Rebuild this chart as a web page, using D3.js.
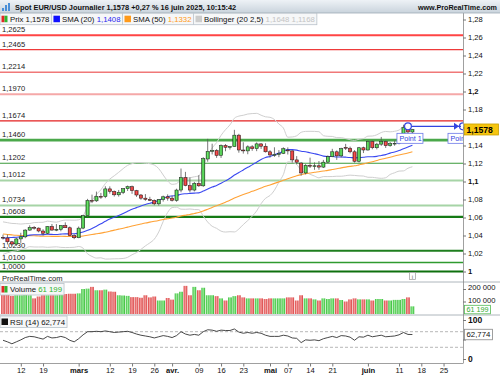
<!DOCTYPE html>
<html><head><meta charset="utf-8">
<script src="https://cdn.jsdelivr.net/npm/d3@7"></script>
<style>
body{margin:0;background:#fff}
svg{display:block;font-family:"Liberation Sans",Arial,sans-serif}
</style>
</head><body>
<svg id="c" width="500" height="375"></svg>
<script>
// ---------------- DATA ----------------
const dates = [
 "06/02","07/02","10/02","11/02","12/02","13/02","14/02","17/02","18/02","19/02","20/02","21/02","24/02","25/02","26/02","27/02","28/02",
 "03/03","04/03","05/03","06/03","07/03","10/03","11/03","12/03","13/03","14/03","17/03","18/03","19/03","20/03","21/03","24/03","25/03","26/03","27/03","28/03","31/03",
 "01/04","02/04","03/04","04/04","07/04","08/04","09/04","10/04","11/04","14/04","15/04","16/04","17/04","18/04","21/04","22/04","23/04","24/04","25/04","28/04","29/04","30/04",
 "01/05","02/05","05/05","06/05","07/05","08/05","09/05","12/05","13/05","14/05","15/05","16/05","19/05","20/05","21/05","22/05","23/05","26/05","27/05","28/05","29/05","30/05",
 "02/06","03/06","04/06","05/06","06/06","09/06","10/06","11/06","12/06","13/06","16/06"];
const open = [
 1.0380,1.0372,1.0330,1.0305,1.0362,1.0385,1.0460,1.0490,1.0482,1.0450,1.0425,1.0500,1.0460,1.0468,1.0512,1.0486,1.0398,
 1.0375,1.0482,1.0620,1.0790,1.0785,1.0835,1.0832,1.0918,1.0890,1.0852,1.0880,1.0920,1.0942,1.0898,1.0850,1.0815,1.0802,1.0790,1.0752,1.0800,1.0830,
 1.0815,1.0790,1.0905,1.1045,1.0955,1.0905,1.0980,1.0952,1.1250,1.1335,1.1345,1.1290,1.1400,1.1380,1.1388,1.1515,1.1350,1.1340,1.1385,1.1365,1.1418,1.1392,
 1.1330,1.1295,1.1300,1.1312,1.1350,1.1340,1.1240,1.1205,1.1095,1.1180,1.1170,1.1175,1.1160,1.1215,1.1276,1.1330,1.1285,1.1380,1.1370,1.1330,1.1225,1.1375,
 1.1350,1.1445,1.1375,1.1415,1.1445,1.1398,1.1420,1.1425,1.1487,1.1600,1.1550];
const high = [
 1.0410,1.0410,1.0340,1.0375,1.0430,1.0470,1.0513,1.0505,1.0490,1.0470,1.0505,1.0528,1.0527,1.0515,1.0546,1.0500,1.0414,
 1.0500,1.0630,1.0807,1.0854,1.0888,1.0873,1.0947,1.0946,1.0900,1.0906,1.0927,1.0955,1.0955,1.0907,1.0861,1.0860,1.0830,1.0801,1.0805,1.0843,1.0857,
 1.0844,1.0920,1.1144,1.1107,1.1046,1.0995,1.1070,1.1270,1.1474,1.1420,1.1360,1.1412,1.1416,1.1395,1.1574,1.1530,1.1436,1.1402,1.1404,1.1434,1.1425,1.1425,
 1.1348,1.1380,1.1349,1.1380,1.1379,1.1345,1.1282,1.1215,1.1193,1.1265,1.1212,1.1227,1.1240,1.1290,1.1363,1.1345,1.1375,1.1418,1.1388,1.1349,1.1384,1.1387,
 1.1455,1.1454,1.1430,1.1495,1.1453,1.1439,1.1456,1.1498,1.1631,1.1613,1.1584];
const low = [
 1.0355,1.0300,1.0285,1.0285,1.0318,1.0370,1.0453,1.0465,1.0435,1.0400,1.0415,1.0455,1.0448,1.0447,1.0483,1.0395,1.0359,
 1.0370,1.0470,1.0605,1.0760,1.0773,1.0807,1.0815,1.0865,1.0833,1.0832,1.0860,1.0895,1.0863,1.0829,1.0797,1.0786,1.0783,1.0736,1.0733,1.0777,1.0787,
 1.0778,1.0775,1.0880,1.0947,1.0880,1.0890,1.0940,1.0940,1.1220,1.1301,1.1263,1.1262,1.1336,1.1355,1.1385,1.1320,1.1310,1.1303,1.1341,1.1337,1.1362,1.1322,
 1.1265,1.1274,1.1270,1.1305,1.1300,1.1210,1.1192,1.1065,1.1079,1.1150,1.1130,1.1131,1.1150,1.1204,1.1270,1.1240,1.1267,1.1350,1.1313,1.1210,1.1211,1.1316,
 1.1343,1.1358,1.1357,1.1396,1.1373,1.1386,1.1397,1.1413,1.1475,1.1490,1.1533];
const close = [
 1.0372,1.0330,1.0305,1.0362,1.0385,1.0460,1.0490,1.0482,1.0450,1.0425,1.0500,1.0460,1.0468,1.0512,1.0486,1.0398,1.0375,
 1.0482,1.0620,1.0790,1.0785,1.0835,1.0832,1.0918,1.0890,1.0852,1.0880,1.0920,1.0942,1.0898,1.0850,1.0815,1.0802,1.0790,1.0752,1.0800,1.0830,1.0815,
 1.0790,1.0905,1.1045,1.0955,1.0905,1.0980,1.0952,1.1255,1.1335,1.1345,1.1290,1.1400,1.1380,1.1388,1.1515,1.1350,1.1340,1.1385,1.1365,1.1418,1.1392,1.1330,
 1.1295,1.1300,1.1312,1.1365,1.1340,1.1240,1.1215,1.1095,1.1180,1.1170,1.1175,1.1160,1.1215,1.1276,1.1330,1.1285,1.1365,1.1370,1.1330,1.1225,1.1375,1.1350,
 1.1445,1.1375,1.1415,1.1445,1.1398,1.1420,1.1425,1.1487,1.1600,1.1550,1.1578];
// closes before the visible window (for SMA / Bollinger warm-up)
const priorCloses = [
 1.0495,1.0488,1.0567,1.0553,1.0577,1.0497,1.0512,1.0511,1.0586,1.0566,1.0554,1.0527,1.0496,1.0468,1.0501,
 1.0513,1.0490,1.0352,1.0365,1.0430,1.0406,1.0408,1.0422,1.0427,1.0405,1.0354,1.0266,1.0308,1.0388,1.0344,
 1.0318,1.0300,1.0244,1.0245,1.0309,1.0289,1.0300,1.0272,1.0417,1.0432,1.0406,1.0414,1.0495,1.0493,1.0429,
 1.0422,1.0390,1.0362,1.0346,1.0379,1.0403];
const volume = [
 155000,155000,145000,150000,150000,155000,150000,125000,140000,150000,150000,150000,150000,152000,160000,162000,162000,
 165000,200000,203000,217000,190000,190000,195000,180000,178000,150000,148000,145000,135000,135000,130000,150000,133000,140000,108000,108000,128000,
 115000,165000,178000,225000,150000,217000,190000,210000,150000,150000,143000,125000,108000,133000,143000,150000,133000,125000,125000,125000,125000,120000,
 125000,125000,125000,125000,133000,133000,108000,150000,125000,125000,117000,108000,125000,120000,125000,125000,112000,100000,117000,125000,117000,117000,
 117000,108000,120000,120000,108000,108000,113000,113000,120000,133000,61199];
const rsi = [
 48,44,39,44,49,55,58,57,54,51,58,54,55,58,55,48,44,
 52,62,70,70,71,70,72,70,68,69,70,71,68,64,61,59,57,54,57,60,58,
 55,60,70,64,61,63,61,70,75,74,71,74,73,73,77,69,66,68,66,68,66,61,
 58,58,58,61,59,54,53,42,49,48,49,47,52,55,58,55,60,59,56,48,57,56,
 61,57,59,61,57,58,59,62,68,63,62.774];
const levels = [1.2625,1.2465,1.2214,1.1970,1.1674,1.1460,1.1202,1.1012,1.0734,1.0608,1.0230,1.0100,1.0000];
const priceTicks = [1.00,1.02,1.04,1.06,1.08,1.10,1.12,1.14,1.16,1.18,1.20,1.22,1.24,1.26,1.28];
const xTickIdx = [4,9,17,24,29,34,38,44,49,54,60,64,69,74,82,89,94,99];
const xTickLabels = ["12","19","mars","12","19","26","avr.","09","16","23","mai","07","14","21","juin","11","18","25"];
const volTicks = [100000,200000];
const rsiTicks = [0,50,100];
const pointIdx = 91, pointPrice = 1.1613;
const lastPrice = 1.1578, lastVolume = 61199, lastRsi = 62.774;
const titleText = "Spot EUR/USD Journalier 1,1578 +0,27 % 16 juin 2025, 10:15:42";

// ---------------- STYLES ----------------
const levelStyle = [
 ["#ff4545",2.2],["#ee3a3a",1.1],["#f07878",1.6],["#f5a8a8",2],["#e32020",1.1],["#4aa84a",2.6],["#3a9a3a",1.1],
 ["#a6d4a6",2],["#a6d4a6",2],["#157a15",2.2],["#1e7e1e",2],["#2f9a2f",1.3],["#0e700e",2]];

// ---------------- SCALES ----------------
const svg = d3.select("#c");
const AX = 463;
const x = d3.scaleLinear().domain([0,104]).range([3, 3+104*4.45]);
const y = d3.scaleLinear().domain([1.0,1.28]).range([271.5,19.5]);
const yv = d3.scaleLinear().domain([0,200000]).range([314,289]);
const yr = d3.scaleLinear().domain([0,100]).range([359,320]);
const fmt4 = v => v.toFixed(4).replace(".",",");
const fmtP = v => String(+v.toFixed(2)).replace(".",",");

const defs = svg.append("defs");
const tg = defs.append("linearGradient").attr("id","tg").attr("x1",0).attr("y1",0).attr("x2",0).attr("y2",1);
tg.append("stop").attr("offset","0").attr("stop-color","#eef2f6");
tg.append("stop").attr("offset","1").attr("stop-color","#c9d3dc");
function barGrad(id, edge, mid){
  const g = defs.append("linearGradient").attr("id",id).attr("x1",0).attr("x2",1).attr("y1",0).attr("y2",0);
  g.append("stop").attr("offset","0").attr("stop-color",edge);
  g.append("stop").attr("offset","0.45").attr("stop-color",mid);
  g.append("stop").attr("offset","1").attr("stop-color",edge);
}
barGrad("gG","#2fb52f","#9cf09c");
barGrad("gR","#d63a3a","#f6a0a0");
barGrad("cG","#28a828","#6fe36f");
barGrad("cR","#d01c1c","#f25a5a");
defs.append("clipPath").attr("id","cm").append("rect").attr("x",0).attr("y",13).attr("width",AX).attr("height",269);
defs.append("clipPath").attr("id","cv").append("rect").attr("x",0).attr("y",282).attr("width",AX).attr("height",33);
defs.append("clipPath").attr("id","cr").append("rect").attr("x",0).attr("y",315).attr("width",AX).attr("height",48);

// ---------------- MAIN PANEL ----------------
const main = svg.append("g").attr("clip-path","url(#cm)");
levels.forEach((v,i)=>{
  main.append("line").attr("x1",0).attr("x2",AX).attr("y1",y(v)).attr("y2",y(v))
    .attr("stroke",levelStyle[i][0]).attr("stroke-width",levelStyle[i][1]);
  main.append("text").attr("x",2).attr("y",y(v)-3).attr("font-size",7.6).attr("fill","#222").text(fmt4(v));
});

// indicators
const all = priorCloses.concat(close);
const off = priorCloses.length;
function sma(n){ return close.map((c,i)=>{ const s=all.slice(off+i-n+1, off+i+1); return d3.mean(s); }); }
const sma20 = sma(20), sma50 = sma(50);
const bbU = [], bbL = [];
close.forEach((c,i)=>{ const s=all.slice(off+i-19, off+i+1); const m=d3.mean(s);
  const sd=Math.sqrt(d3.mean(s.map(v=>(v-m)*(v-m)))); bbU.push(m+2.5*sd); bbL.push(m-2.5*sd); });
const line = d3.line().x((d,i)=>x(i)).y(d=>y(d)).curve(d3.curveMonotoneX);
main.append("path").attr("d",line(bbU)).attr("fill","none").attr("stroke","#cfcfcf").attr("stroke-width",1);
main.append("path").attr("d",line(bbL)).attr("fill","none").attr("stroke","#cfcfcf").attr("stroke-width",1);
main.append("path").attr("d",line(sma50)).attr("fill","none").attr("stroke","#ffa236").attr("stroke-width",1.1);
main.append("path").attr("d",line(sma20)).attr("fill","none").attr("stroke","#3a48f0").attr("stroke-width",1.1);

// candles
const cg = main.append("g");
close.forEach((c,i)=>{
  const up = c >= open[i];
  cg.append("line").attr("x1",x(i)).attr("x2",x(i)).attr("y1",y(high[i])).attr("y2",y(low[i]))
    .attr("stroke","#555").attr("stroke-width",0.8);
  const top = y(Math.max(open[i],c)), bot = y(Math.min(open[i],c));
  cg.append("rect").attr("x",x(i)-1.6).attr("width",3.2).attr("y",top).attr("height",Math.max(0.8,bot-top))
    .attr("fill",up?"url(#cG)":"url(#cR)").attr("stroke","#1d1d1d").attr("stroke-width",0.5);
});

// Point 1 annotation
const py = y(pointPrice), px = x(pointIdx);
main.append("line").attr("x1",px).attr("x2",AX-2).attr("y1",py).attr("y2",py).attr("stroke","#3345e0").attr("stroke-width",1.3);
main.append("path").attr("d",`M${AX-9},${py-3.5} L${AX-4},${py} L${AX-9},${py+3.5} Z`).attr("fill","#3345e0");
main.append("path").attr("d",`M${AX},${py-3.5} A3.5,3.5 0 0 0 ${AX},${py+3.5}`).attr("fill","none").attr("stroke","#3345e0").attr("stroke-width",1.2);
main.append("circle").attr("cx",px).attr("cy",py).attr("r",3.4).attr("fill","#fff").attr("stroke","#3345e0").attr("stroke-width",1.2);
function ptLabel(lx){
  main.append("rect").attr("x",lx).attr("y",py+7).attr("width",26).attr("height",10).attr("fill","#fff").attr("stroke","#6b78e8").attr("stroke-width",0.8);
  main.append("text").attr("x",lx+2.5).attr("y",py+14.8).attr("font-size",7.2).attr("fill","#3345e0").text("Point 1");
}
ptLabel(px-11);
ptLabel(AX-15);

// "ProRealTime.com" and info icon
svg.append("text").attr("x",2).attr("y",281).attr("font-size",7.6).attr("fill","#222").text("ProRealTime.com");
svg.append("rect").attr("x",409.5).attr("y",272.5).attr("width",6).attr("height",7).attr("fill","#fff").attr("stroke","#999").attr("stroke-width",0.7);
svg.append("text").attr("x",412.5).attr("y",278.5).attr("font-size",6).attr("text-anchor","middle").attr("fill","#666").text("i");

// ---------------- VOLUME PANEL ----------------
const vg = svg.append("g").attr("clip-path","url(#cv)");
volume.forEach((v,i)=>{
  const up = close[i] >= open[i];
  vg.append("rect").attr("x",x(i)-1.85).attr("width",3.7).attr("y",yv(v)).attr("height",yv(0)-yv(v))
    .attr("fill",up?"url(#gG)":"url(#gR)");
});

// ---------------- RSI PANEL ----------------
const rg = svg.append("g").attr("clip-path","url(#cr)");
[70,30].forEach(v=>rg.append("line").attr("x1",0).attr("x2",AX).attr("y1",yr(v)).attr("y2",yr(v))
  .attr("stroke","#9a9a9a").attr("stroke-width",0.7).attr("stroke-dasharray","3,2"));
rg.append("path").attr("d",d3.line().x((d,i)=>x(i)).y(d=>yr(d))(rsi)).attr("fill","none").attr("stroke","#333").attr("stroke-width",0.9);

// panel separators
[282,315].forEach(v=>svg.append("line").attr("x1",0).attr("x2",500).attr("y1",v).attr("y2",v).attr("stroke","#9aa3ab").attr("stroke-width",0.8));
svg.append("line").attr("x1",0).attr("x2",AX).attr("y1",363.5).attr("y2",363.5).attr("stroke","#888").attr("stroke-width",0.8);
svg.append("line").attr("x1",AX+0.5).attr("x2",AX+0.5).attr("y1",13).attr("y2",363.5).attr("stroke","#888").attr("stroke-width",0.8);

// ---------------- AXES ----------------
function styleAxis(g, boldSet){
  g.select(".domain").remove();
  g.selectAll(".tick line").attr("stroke","#777");
  g.selectAll(".tick text").attr("fill","#111").attr("font-family","Liberation Sans, Arial, sans-serif").attr("font-size",7.6);
  if(boldSet) g.selectAll(".tick text").attr("font-weight",d=>boldSet(d)?"bold":"normal");
}
// labels hidden behind the value boxes in the reference are left empty
const ay = svg.append("g").attr("transform",`translate(${AX},0)`)
  .call(d3.axisRight(y).tickValues(priceTicks).tickSize(3).tickPadding(2)
    .tickFormat(d=>Math.abs(d-1.16)<1e-9 ? "" : fmtP(d)));
styleAxis(ay, d=>[1.0,1.1,1.2].some(b=>Math.abs(b-d)<1e-9));
const av = svg.append("g").attr("transform",`translate(${AX},0)`)
  .call(d3.axisRight(yv).tickValues(volTicks).tickSize(3).tickPadding(2).tickFormat(d=>d3.format(",")(d).replace(/,/g," ")));
styleAxis(av);
av.selectAll(".tick text").attr("dy","0.1em");
const ar = svg.append("g").attr("transform",`translate(${AX},0)`)
  .call(d3.axisRight(yr).tickValues(rsiTicks).tickSize(3).tickPadding(2).tickFormat(d=>d===50?"":d3.format("d")(d)));
styleAxis(ar, d=>d!==50);
ar.selectAll(".tick text").attr("font-size",8.5);
const ax = svg.append("g").attr("transform","translate(0,363.5)")
  .call(d3.axisBottom(x).tickValues(xTickIdx).tickSize(3).tickPadding(1.5).tickFormat((d,i)=>xTickLabels[i]));
styleAxis(ax, d=>[17,38,60,82].includes(d));

// value boxes on axis
function valBox(cy, txt, stroke, fill, color, bold, w, h, fs){
  svg.append("rect").attr("x",AX+1.5).attr("y",cy-h/2).attr("width",w).attr("height",h).attr("fill",fill).attr("stroke",stroke).attr("stroke-width",0.8);
  svg.append("text").attr("x",AX+3.5).attr("y",cy+fs*0.36).attr("font-size",fs).attr("font-weight",bold?"bold":"normal").attr("fill",color).text(txt);
}
valBox(y(lastPrice), fmt4(lastPrice), "#c9a000", "#f6c50f", "#000", true, 34, 11, 8.6);
valBox(yv(lastVolume)+3.2, d3.format(",")(lastVolume).replace(/,/g," "), "#55bb55", "#fff", "#2faa2f", false, 26, 8.5, 7.2);
valBox(yr(lastRsi), String(lastRsi).replace(".",","), "#888", "#fff", "#111", false, 28, 10.5, 7.8);

// ---------------- TITLE BAR ----------------
svg.append("rect").attr("x",0).attr("y",0).attr("width",500).attr("height",13).attr("fill","url(#tg)");
svg.append("line").attr("x1",0).attr("x2",500).attr("y1",13).attr("y2",13).attr("stroke","#9eabb6").attr("stroke-width",0.8);
[[2,7,3],[5,4,6],[8,2,8]].forEach(b=>svg.append("rect").attr("x",b[0]).attr("y",b[1]+1).attr("width",2).attr("height",b[2]).attr("fill","#4a8fd8"));
svg.append("text").attr("x",15).attr("y",10).attr("font-size",7.4).attr("font-weight","bold").attr("fill","#111").text(titleText);
svg.append("text").attr("x",497).attr("y",10).attr("text-anchor","end").attr("font-size",7.2).attr("font-weight","bold").attr("fill","#111").text("www.ProRealTime.com");

// ---------------- LEGENDS ----------------
function legend(y0, cells){
  const g = svg.append("g");
  const bg = g.append("rect").attr("x",0).attr("y",y0).attr("height",11.5).attr("fill","#f6f7f8").attr("stroke","#b9c2ca").attr("stroke-width",0.8);
  let cx = 1.5;
  cells.forEach((c,ci)=>{
    if(ci>0){ g.append("line").attr("x1",cx).attr("x2",cx).attr("y1",y0).attr("y2",y0+11.5).attr("stroke","#b9c2ca").attr("stroke-width",0.8); cx+=2; }
    if(c.sq.length===2){
      g.append("rect").attr("x",cx).attr("y",y0+2.5).attr("width",3).attr("height",6.5).attr("fill",c.sq[0]);
      g.append("rect").attr("x",cx+3).attr("y",y0+2.5).attr("width",3).attr("height",6.5).attr("fill",c.sq[1]);
    } else g.append("rect").attr("x",cx).attr("y",y0+2.5).attr("width",6.5).attr("height",6.5).attr("fill",c.sq[0]);
    cx += 8.5;
    const t = g.append("text").attr("x",cx).attr("y",y0+8.8).attr("font-size",7.8);
    c.parts.forEach(p=>t.append("tspan").attr("fill",p[1]).text(p[0]));
    cx += t.node().getComputedTextLength() + 2;
  });
  bg.attr("width",cx);
}
legend(13.2, [
  {sq:["#e32626","#2fb52f"], parts:[["Prix 1,1578","#111"]]},
  {sq:["#1010ff"], parts:[["SMA (20) ","#111"],["1,1408","#2a2af0"]]},
  {sq:["#ff9a1a"], parts:[["SMA (50) ","#111"],["1,1332","#ff9a1a"]]},
  {sq:["#cccccc"], parts:[["Bollinger (20 2,5) ","#111"],["1,1648 1,1168","#c4c4c4"]]}
]);
legend(283.5, [{sq:["#e32626","#2fb52f"], parts:[["Volume ","#111"],["61 199","#2fb52f"]]}]);
legend(316, [{sq:["#111"], parts:[["RSI (14) 62,774","#111"]]}]);
</script>
</body></html>
